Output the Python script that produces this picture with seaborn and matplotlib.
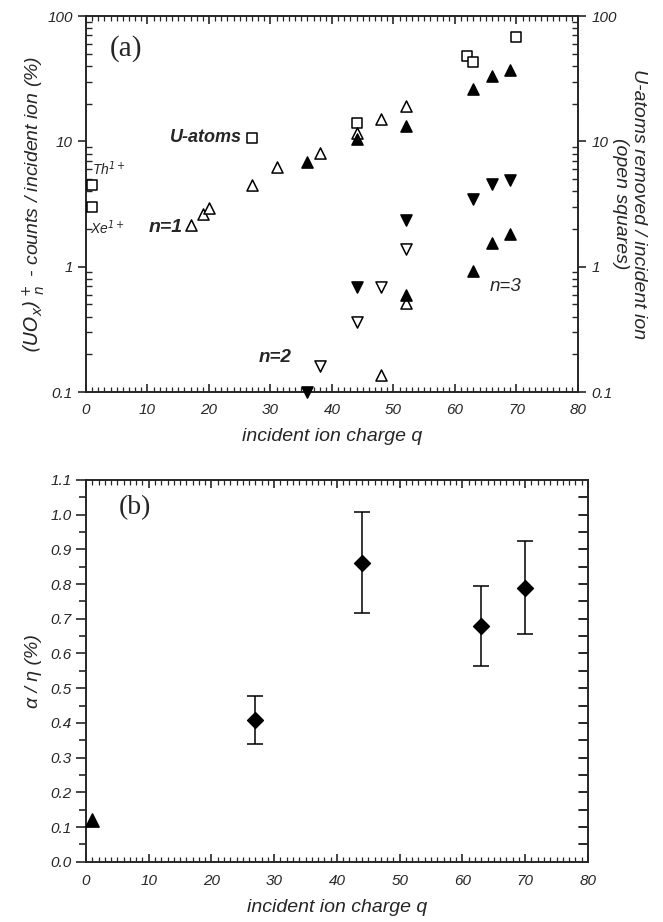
import numpy as np
import pandas as pd
import matplotlib
matplotlib.use("Agg")
import matplotlib.pyplot as plt
from matplotlib.ticker import MultipleLocator, LogLocator, NullFormatter, FixedLocator, FormatStrFormatter
import seaborn as sns

# ---- panel (a) data: (UO_x)+_n counts / incident ion (%) vs incident charge q
sq_q = [1, 1, 27, 44, 62, 63, 70]                 # open squares: U-atoms removed
sq_y = [4.5, 3.0, 10.7, 14.1, 48, 43, 68]

n1_open_q = [17, 19, 20, 27, 31, 38, 44, 48, 52]
n1_open_y = [2.15, 2.65, 2.95, 4.45, 6.3, 8.1, 11.6, 15.1, 19.3]
n1_fill_q = [36, 44, 52, 63, 66, 69]
n1_fill_y = [6.9, 10.4, 13.2, 26, 33, 37]

n2_open_q = [38, 44, 48, 52]
n2_open_y = [0.16, 0.36, 0.69, 1.38]
n2_fill_q = [36, 44, 52, 63, 66, 69]
n2_fill_y = [0.10, 0.69, 2.35, 3.5, 4.6, 4.9]

n3_open_q = [48, 52]
n3_open_y = [0.137, 0.51]
n3_fill_q = [52, 63, 66, 69]
n3_fill_y = [0.59, 0.93, 1.54, 1.81]

# ---- panel (b) data: alpha / eta (%)
b_tri_q = [1]
b_tri_y = [0.12]
b_q = [27, 44, 63, 70]
b_y = [0.408, 0.86, 0.679, 0.79]
b_lo = [0.339, 0.716, 0.565, 0.655]
b_hi = [0.477, 1.008, 0.795, 0.924]

sns.set_style("ticks")
plt.rcParams["font.family"] = ["Liberation Sans", "DejaVu Sans"]
plt.rcParams["font.style"] = "italic"
plt.rcParams["axes.linewidth"] = 1.4
plt.rcParams["mathtext.default"] = "it"

fig = plt.figure(figsize=(6.63, 9.22), dpi=100)
ax1 = fig.add_axes([0.1297, 0.5748, 0.742, 0.4078])
ax2 = fig.add_axes([0.1297, 0.0654, 0.757, 0.414])

TICK_FS = 11
LABEL_FS = 14


def scat(ax, q, y, marker, filled, size):
    df = pd.DataFrame({"q": q, "y": y})
    sns.scatterplot(data=df, x="q", y="y", ax=ax, marker=marker, s=size ** 2,
                    facecolor="black" if filled else "white",
                    edgecolor="black", linewidth=1.1, clip_on=False, zorder=3)


# panel (a)
scat(ax1, sq_q, sq_y, "s", False, 6.5)
scat(ax1, n1_open_q, n1_open_y, "^", False, 8)
scat(ax1, n1_fill_q, n1_fill_y, "^", True, 8)
scat(ax1, n2_open_q, n2_open_y, "v", False, 8)
scat(ax1, n2_fill_q, n2_fill_y, "v", True, 8)
scat(ax1, n3_open_q, n3_open_y, "^", False, 8)
scat(ax1, n3_fill_q, n3_fill_y, "^", True, 8)

ax1.set_yscale("log")
ax1.set_xlim(0, 80)
ax1.set_ylim(0.1, 100)
ax1.xaxis.set_major_locator(MultipleLocator(10))
ax1.xaxis.set_minor_locator(MultipleLocator(1))
ax1.yaxis.set_major_locator(FixedLocator([0.1, 1, 10, 100]))
ax1.yaxis.set_minor_locator(LogLocator(base=10, subs=np.arange(2, 10)))
ax1.yaxis.set_minor_formatter(NullFormatter())
ax1.set_yticklabels(["0.1", "1", "10", "100"])
ax1.tick_params(axis="y", which="major", direction="out", length=6, width=1.2,
                left=True, right=True, labelleft=True, labelright=True, labelsize=TICK_FS)
ax1.tick_params(axis="y", which="minor", direction="in", length=4, width=1,
                left=True, right=True)
ax1.tick_params(axis="x", which="major", direction="in", length=6, width=1.2,
                top=True, bottom=True, labelsize=TICK_FS, pad=8)
ax1.tick_params(axis="x", which="minor", direction="in", length=3.5, width=0.9,
                top=True, bottom=True)
ax1.set_xlabel("incident ion charge q", fontsize=LABEL_FS, labelpad=8)
ax1.set_ylabel("$(UO_x)^+_{\\ n}$ - counts / incident ion (%)", fontsize=LABEL_FS, labelpad=0)
ax1.text(1.105, 0.5, "U-atoms removed / incident ion\n(open squares)", transform=ax1.transAxes,
         rotation=-90, ha="center", va="center", fontsize=LABEL_FS, linespacing=1.05)

ax1.text(3.8, 55, "(a)", fontsize=21, family="Liberation Serif", style="normal", va="center")
ax1.text(25.3, 10.7, "U-atoms", fontsize=13, weight="bold", ha="right", va="center")
ax1.text(1.0, 6.1, "Th$^{1+}$", fontsize=10, va="center")
ax1.text(0.6, 2.05, "Xe$^{1+}$", fontsize=10, va="center")
ax1.text(15.8, 2.07, "n=1", fontsize=14, weight="bold", ha="right", va="center")
ax1.text(28, 0.187, "n=2", fontsize=13.5, weight="bold", va="center")
ax1.text(65.6, 0.69, "n=3", fontsize=13.5, va="center")

# panel (b)
scat(ax2, b_tri_q, b_tri_y, "^", True, 9.5)
b_err = np.array([np.array(b_y) - np.array(b_lo), np.array(b_hi) - np.array(b_y)])
ax2.errorbar(b_q, b_y, yerr=b_err, fmt="none", ecolor="black", elinewidth=1.1,
             capsize=5.5, capthick=1.1, zorder=2)
scat(ax2, b_q, b_y, "D", True, 8)

ax2.set_xlim(0, 80)
ax2.set_ylim(0, 1.1)
ax2.xaxis.set_major_locator(MultipleLocator(10))
ax2.xaxis.set_minor_locator(MultipleLocator(1))
ax2.yaxis.set_major_locator(MultipleLocator(0.1))
ax2.yaxis.set_minor_locator(MultipleLocator(0.05))
ax2.yaxis.set_major_formatter(FormatStrFormatter("%.1f"))
ax2.tick_params(axis="y", which="major", direction="out", length=7, width=1.2,
                left=True, right=False, labelsize=TICK_FS)
ax2.tick_params(axis="y", which="minor", direction="out", length=5, width=1.2, left=True)
ax2.tick_params(axis="x", which="major", direction="in", length=6, width=1.2,
                top=True, bottom=True, labelsize=TICK_FS, pad=9)
ax2.tick_params(axis="x", which="minor", direction="in", length=3.5, width=0.9,
                top=True, bottom=True)
# inward ticks on the right spine of (b)
for yv in np.arange(0.05, 1.1, 0.05):
    ax2.plot([1, 0.983], [yv, yv], transform=ax2.get_yaxis_transform(),
             color="black", lw=1.2, clip_on=False)
ax2.set_xlabel("incident ion charge q", fontsize=LABEL_FS, labelpad=8)
ax2.set_ylabel("α / η (%)", fontsize=LABEL_FS, labelpad=6)
ax2.text(5.2, 1.02, "(b)", fontsize=20, family="Liberation Serif", style="normal", va="center")

fig.savefig("out.png", dpi=100)
